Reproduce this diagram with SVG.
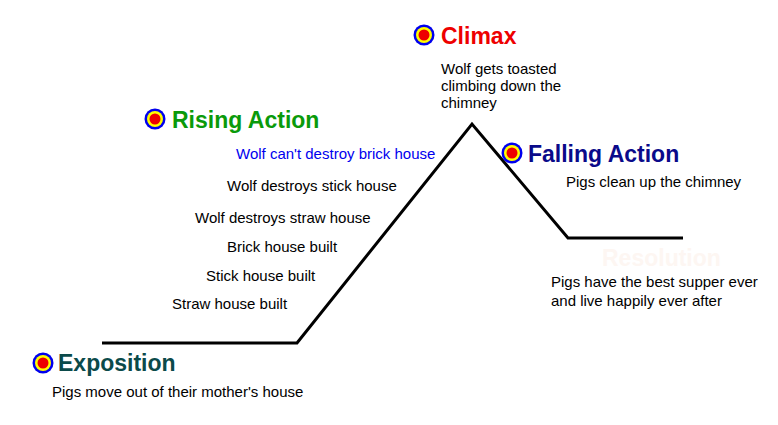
<svg xmlns="http://www.w3.org/2000/svg" width="778" height="425" viewBox="0 0 778 425">
<defs>
<g id="target">
<circle r="10.5" fill="#0000ee"/>
<circle r="8" fill="#ffff00"/>
<circle r="5.5" fill="#ee0000"/>
</g>
</defs>
<style>
.h{font-family:"Liberation Sans",Arial,sans-serif;font-weight:bold;font-size:23px}
.t{font-family:"Liberation Sans",Arial,sans-serif;font-size:15px;fill:#000}
</style>
<rect width="778" height="425" fill="#fff"/>
<g id="connectors">
<polyline points="102,343 297,343 472,124 568,238 683,238" fill="none" stroke="#000" stroke-width="3" stroke-linejoin="miter"/>
</g>
<g id="exposition">
<use href="#target" x="43" y="363"/>
<text class="h" x="58" y="371" fill="#0b4a4a">Exposition</text>
<text class="t" x="52" y="397">Pigs move out of their mother's house</text>
</g>
<g id="rising">
<use href="#target" x="155" y="119"/>
<text class="h" x="172" y="128" fill="#0a9a0a">Rising Action</text>
<text class="t" x="236" y="159" style="fill:#0000ee">Wolf can't destroy brick house</text>
<text class="t" x="227" y="191">Wolf destroys stick house</text>
<text class="t" x="195" y="223">Wolf destroys straw house</text>
<text class="t" x="227" y="252">Brick house built</text>
<text class="t" x="206" y="281">Stick house built</text>
<text class="t" x="172" y="309">Straw house built</text>
</g>
<g id="climax">
<use href="#target" x="424" y="35"/>
<text class="h" x="441" y="44" fill="#ee0000">Climax</text>
<text class="t" x="441" y="74">Wolf gets toasted</text>
<text class="t" x="441" y="91">climbing down the</text>
<text class="t" x="441" y="108">chimney</text>
</g>
<g id="falling">
<use href="#target" x="512" y="153"/>
<text class="h" x="528" y="162" fill="#0a0a8a">Falling Action</text>
<text class="t" x="566" y="187">Pigs clean up the chimney</text>
</g>
<g id="resolution">
<text class="h" x="602" y="266" fill="#fdf6f2">Resolution</text>
<text class="t" x="551" y="287">Pigs have the best supper ever</text>
<text class="t" x="551" y="306">and live happily ever after</text>
</g>
</svg>
